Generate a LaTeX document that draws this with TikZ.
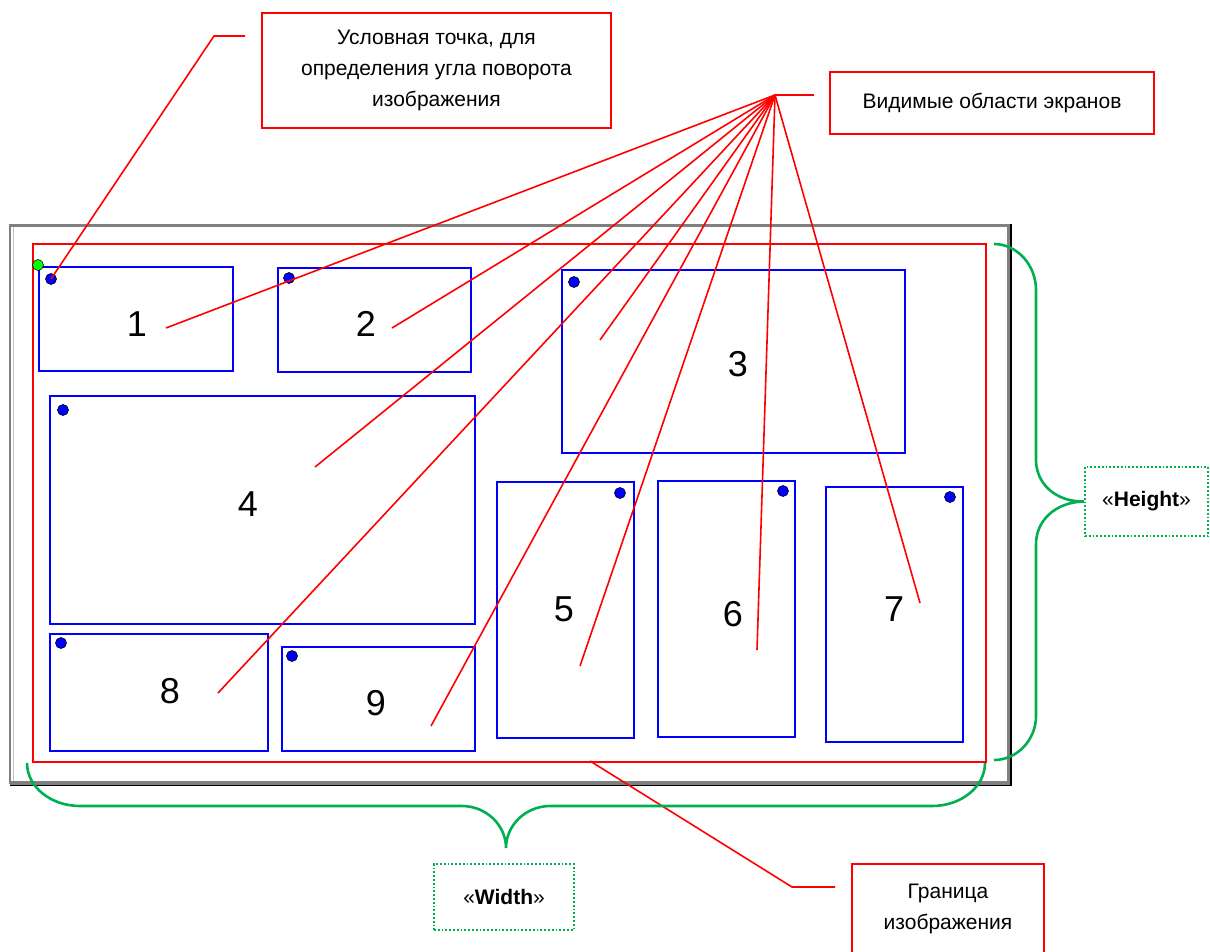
\documentclass[tikz,border=0pt]{standalone}
\usepackage{fontspec}
\setmainfont{Liberation Sans}
\definecolor{vred}{RGB}{255,0,0}
\definecolor{vblue}{RGB}{0,0,255}
\definecolor{vgreen}{RGB}{0,176,80}
\definecolor{lgreen}{RGB}{0,255,0}
\definecolor{fgray}{RGB}{128,128,128}
\definecolor{lgray}{RGB}{192,192,192}
\begin{document}
\begin{tikzpicture}[x=1pt,y=-1pt,
  screen/.style={draw=vblue, line width=2.2pt, inner sep=0, anchor=north west},
  num/.style={font=\fontsize{36}{40}\selectfont, inner sep=0},
  dot/.style={circle, fill=vblue, draw=black, line width=0.6pt, minimum size=11pt, inner sep=0},
  callout/.style={draw=vred, line width=1.6pt, align=center, inner sep=0,
    font=\fontsize{21}{31}\selectfont},
  lead/.style={draw=vred, line width=1.6pt},
  brace/.style={draw=vgreen, line width=2.6pt},
  dimbox/.style={draw=vgreen, line width=1.8pt, dotted, inner sep=0,
    font=\fontsize{21}{25}\selectfont}]
\useasboundingbox (0,0) rectangle (1210,952);
% outer panel
\node[inner sep=0, minimum width=1000pt, minimum height=560pt, anchor=north west, fill=white] (panel) at (10,224) {};
\draw[lgray, line width=1pt] ([xshift=3pt,yshift=-2pt]panel.north west) -- ([xshift=3pt,yshift=2pt]panel.south west);
\draw[fgray, line width=1.4pt] (panel.north west) -- (panel.south west);
\draw[fgray, line width=3.5pt] ([yshift=-1.5pt]panel.north west) -- ([yshift=-1.5pt]panel.north east);
\draw[fgray, line width=3pt] ([xshift=-2pt]panel.north east) -- ([xshift=-2pt]panel.south east);
\draw[fgray, line width=3.5pt] ([yshift=1.5pt]panel.south west) -- ([yshift=1.5pt]panel.south east);
\draw[black, line width=1.6pt] ([xshift=0.5pt]panel.north east) -- ([xshift=0.5pt,yshift=-1pt]panel.south east) -- ([yshift=-1pt]panel.south west);
% image boundary
\node[draw=vred, line width=2.4pt, inner sep=0, minimum width=953pt, minimum height=518pt, anchor=north west] (img) at (32,243) {};
% screens
\node[screen, minimum width=194pt, minimum height=104pt] (s1) at (38,266) {};
\node[screen, minimum width=193pt, minimum height=104pt] (s2) at (277,267) {};
\node[screen, minimum width=343pt, minimum height=183pt] (s3) at (561,269) {};
\node[screen, minimum width=425pt, minimum height=228pt] (s4) at (49,395) {};
\node[screen, minimum width=137pt, minimum height=256pt] (s5) at (496,481) {};
\node[screen, minimum width=137pt, minimum height=256pt] (s6) at (657,480) {};
\node[screen, minimum width=137pt, minimum height=255pt] (s7) at (825,486) {};
\node[screen, minimum width=218pt, minimum height=117pt] (s8) at (49,633) {};
\node[screen, minimum width=193pt, minimum height=104pt] (s9) at (281,646) {};
% numbers
\node[num] (n1) at (137,324) {1};
\node[num] (n2) at (366,324) {2};
\node[num] (n3) at (738,364) {3};
\node[num] (n4) at (248,504) {4};
\node[num] (n5) at (564,609) {5};
\node[num] (n6) at (733,614) {6};
\node[num] (n7) at (894,609) {7};
\node[num] (n8) at (170,691) {8};
\node[num] (n9) at (376,703) {9};
% dots
\node[dot] (d1) at (51,279) {};
\node[dot] (d2) at (289,278) {};
\node[dot] (d3) at (574,282) {};
\node[dot] (d4) at (63,410) {};
\node[dot] (d5) at (620,493) {};
\node[dot] (d6) at (783,491) {};
\node[dot] (d7) at (950,497) {};
\node[dot] (d8) at (61,643) {};
\node[dot] (d9) at (292,656) {};
% callouts
\node[callout, minimum width=349pt, minimum height=115pt] (c1) at (436.5,70.5) {Условная точка, для\\определения угла поворота\\изображения};
\node[callout, minimum width=324pt, minimum height=62pt] (c2) at (992,103) {Видимые области экранов};
\node[callout, minimum width=192pt, minimum height=89pt] (c3) at (948,908.5) {Граница\\изображения};
% leader 1
\coordinate (k1) at (214,36);
\draw[lead] (d1.center) -- (k1) -- ([xshift=-16pt]c1.west |- k1);
% fan
\coordinate (fan) at (775,95);
\draw[lead] (fan) -- ([xshift=-15pt]c2.west |- fan);
\coordinate (e1) at (166,328);
\coordinate (e2) at (392,328);
\coordinate (e3) at (600,340);
\coordinate (e4) at (315,467);
\coordinate (e8) at (218,693);
\coordinate (e9) at (431,726);
\coordinate (e5) at (580,666);
\coordinate (e6) at (757,650);
\coordinate (e7) at (920,603);
\foreach \e in {e1,e2,e3,e4,e5,e6,e7,e8,e9}{\draw[lead] (fan) -- (\e);}
% boundary leader
\coordinate (b0) at (590,761);
\coordinate (k3) at (792,887);
\draw[lead] (b0) -- (k3) -- ([xshift=-16pt]c3.west |- k3);
% green reference dot
\node[circle, fill=lgreen, draw=black, line width=0.5pt, minimum size=11pt, inner sep=0] (g0) at (38,265) {};
% dimension labels
\node[dimbox, minimum width=123pt, minimum height=69pt] (hb) at (1146.5,501.5) {«\textbf{Height}»};
\node[dimbox, minimum width=140pt, minimum height=66pt] (wb) at (504,897) {«\textbf{Width}»};
% right brace
\coordinate (rb1) at (994,244);
\coordinate (rb2) at (994,760);
\draw[brace] (rb1) .. controls (1017,244) and (1036,265) .. (1036,290) -- (1036,460)
  .. controls (1036,483) and (1055,502) .. (hb.west)
  .. controls (1055,502) and (1036,521) .. (1036,544) -- (1036,716)
  .. controls (1036,740) and (1017,760) .. (rb2);
% bottom brace
\coordinate (bb1) at (27,763);
\coordinate (bb2) at (985,763);
\coordinate (bt) at (506,848);
\draw[brace] (bb1) .. controls (27,787) and (51,806) .. (80,806) -- (462,806)
  .. controls (486,806) and (506,825) .. (bt)
  .. controls (506,825) and (526,806) .. (550,806) -- (932,806)
  .. controls (961,806) and (985,787) .. (bb2);
\end{tikzpicture}
\end{document}
